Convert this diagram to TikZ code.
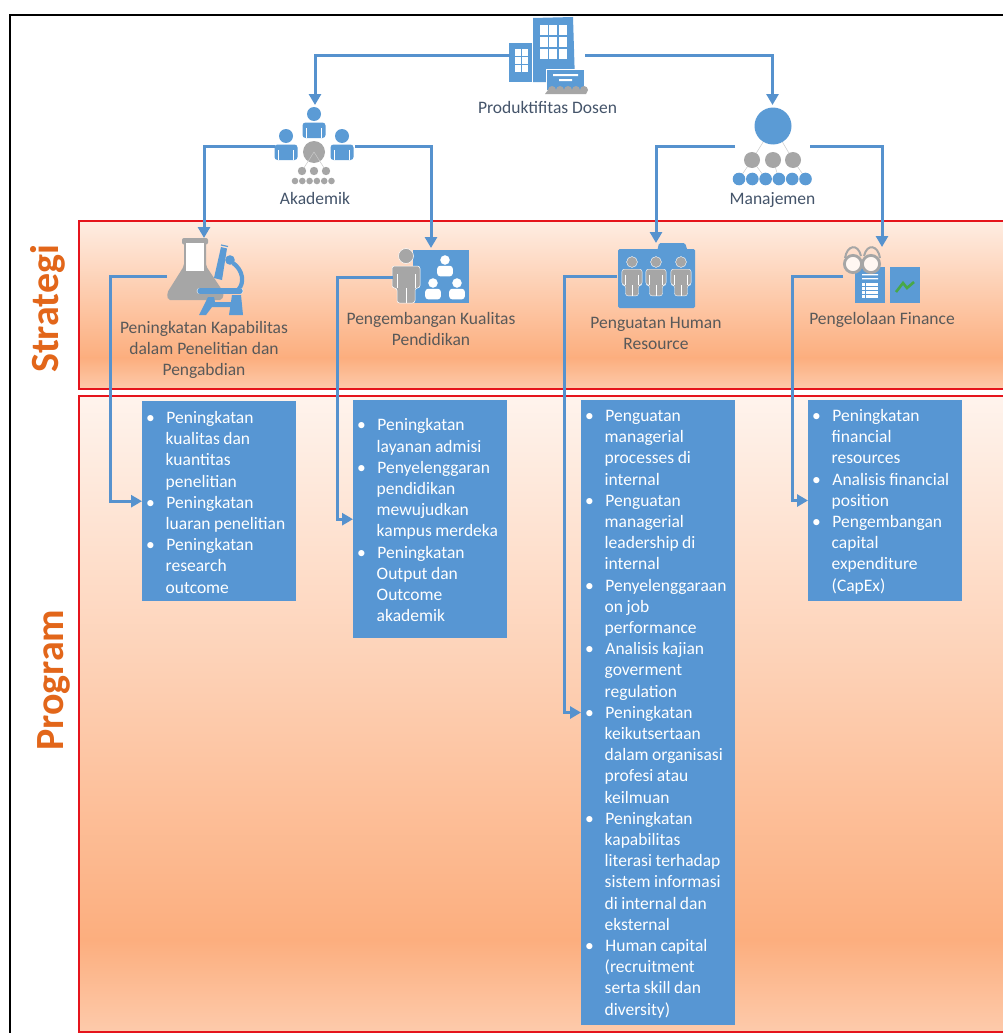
\documentclass[tikz,border=0pt]{standalone}
\usepackage{fontspec}
\setmainfont{Carlito}
\usetikzlibrary{positioning,arrows.meta}
\definecolor{iconblue}{HTML}{5B9BD5}
\definecolor{flowblue}{HTML}{5692CE}
\definecolor{boxblue}{HTML}{5796D3}
\definecolor{icongray}{HTML}{A6A6A6}
\definecolor{capgray}{HTML}{44546A}
\definecolor{textgray}{HTML}{595959}
\definecolor{framered}{HTML}{E5141C}
\definecolor{peach}{HTML}{FCAE7E}
\definecolor{sidetext}{HTML}{E2661A}
\definecolor{chartgreen}{HTML}{48A848}
\newenvironment{proglist}{\spaceskip=.2em\relax\list{\textbullet}{\leftmargin=23.5pt \labelsep=11.5pt \labelwidth=8pt
    \itemsep=0pt \parsep=0pt \topsep=0pt \partopsep=0pt}}{\endlist\vspace{7pt}}
\tikzstyle{iconbox}=[inner sep=0,outer sep=0]
\tikzstyle{flow}=[-{Triangle[width=12pt,length=11pt]},draw=flowblue,line width=3pt]
\tikzstyle{toplabel}=[inner sep=0,text=capgray,align=center,font=\fontsize{17.5}{21}\selectfont]
\tikzstyle{stratlabel}=[inner sep=0,text=textgray,align=center,font=\fontsize{17.5}{21}\selectfont]
\tikzstyle{sidelabel}=[inner sep=0,rotate=90,text=sidetext,font=\fontsize{40}{40}\selectfont\bfseries]
\tikzstyle{progbox}=[fill=boxblue,text=white,inner xsep=0,inner ysep=0,text width=154pt,align=left,
font=\fontsize{17.5}{21.2}\selectfont]
\tikzset{
  person/.pic={
    \path[pic actions] (0,0) circle (7);
    \path[pic actions,rounded corners=3pt] (-11.5,24) -- (-11.5,8.5) -- (11.5,8.5) -- (11.5,24) -- cycle;
    \draw[white,line width=.6pt] (-7.5,14) -- (-7.5,24) (7.5,14) -- (7.5,24);
  },
  standing/.pic={
    \path[pic actions] (0,0) circle (7.5);
    \path[pic actions,rounded corners=2.5pt] (-14,32) -- (-14,10) -- (14,10) -- (14,32) -- (9,32) -- (9,47) -- (-9,47) -- (-9,32) -- cycle;
    \draw[white,line width=.6pt] (0,32) -- (0,47) (-9,18) -- (-9,32) (9,18) -- (9,32);
  },
}
\begin{document}
\begin{tikzpicture}[x=1pt,y=-1pt]
    \useasboundingbox (0,0) rectangle (1003,1033);
    \fill[white] (0,0) rectangle (1003,1033);
    % frame and bands
    \draw[black,line width=2.4pt] (1003,15) -| (10,1033);
    \shade[top color=peach!22,bottom color=peach] (79,221) rectangle (1003,358);
    \shade[top color=peach,bottom color=peach!65] (79,357.5) rectangle (1003,389);
    \shade[top color=peach!14,bottom color=peach] (79,396) rectangle (1003,940);
    \shade[top color=peach,bottom color=peach!65] (79,939.5) rectangle (1003,1032);
    \draw[framered,line width=2.5pt] (1003,221) -| (79,389) -- (1003,389);
    \draw[framered,line width=2.5pt] (1003,396) -| (79,1032) -- (1003,1032);
    \node[sidelabel] (strategi) at (48,309) {Strategi};
    \node[sidelabel] (program) at (54,680) {Program};

    % icon areas, the connectors end on these
    \node[iconbox,minimum width=75pt,minimum height=78pt] (prod) at (547.5,56) {};
    \node[iconbox,minimum width=80pt,minimum height=82pt] (akad) at (315,146) {};
    \node[iconbox,minimum width=75pt,minimum height=82pt] (manaj) at (772.5,146) {};
    \node[iconbox,minimum width=74pt,minimum height=77pt] (flask) at (204,276.5) {};
    \node[iconbox,minimum width=76pt,minimum height=58pt] (kelas) at (431,277) {};
    \node[iconbox,minimum width=78pt,minimum height=66pt] (hr) at (656,276) {};
    \node[iconbox,minimum width=78pt,minimum height=58pt] (fin) at (882,276) {};

    \node[toplabel,below=6pt of prod] (prodtxt) {Produktifitas Dosen};
    \node[toplabel,below=5pt of akad] (akadtxt) {Akademik};
    \node[toplabel,below=5pt of manaj] (manajtxt) {Manajemen};
    \node[stratlabel,below=6pt of flask] (flasktxt) {Peningkatan Kapabilitas\\dalam Penelitian dan\\Pengabdian};
    \node[stratlabel,below=6pt of kelas] (kelastxt) {Pengembangan Kualitas\\Pendidikan};
    \node[stratlabel,below=8pt of hr] (hrtxt) {Penguatan Human\\Resource};
    \node[stratlabel,below=7pt of fin] (fintxt) {Pengelolaan Finance};

    % building
    \fill[iconblue] (533,18) -- (573,17) -- (575,82) -- (533,82) -- cycle;
    \fill[iconblue] (509,43) rectangle (532,82);
    \foreach \i in {0,1,2} \foreach \j in {0,1,2}
    \fill[white] (539.5+\i*9.8,25+\j*11.8) rectangle ++(8,10);
    \foreach \i in {0,1} \foreach \j in {0,1,2}
    \fill[white] (515+\i*7,49+\j*8.2) rectangle ++(5.8,6.8);
    \fill[iconblue,draw=white,line width=1pt] (546.5,69.5) rectangle (584,90);
    \fill[white] (553,74) rectangle (578,76) (559,79) rectangle (572,81);
    \fill[icongray] (545,94) -- (548,90) arc (180:360:4) arc (180:360:4) arc (180:360:4) arc (180:360:4) arc (180:360:4) -- (586,94) -- cycle;

    % people around the gray circle
    \pic[fill=iconblue] at (314,114) {person};
    \pic[fill=iconblue] at (286,136) {person};
    \pic[fill=iconblue] at (342,136) {person};
    \fill[icongray] (314,152) circle (11);
    \draw[icongray!60,line width=.5pt] (314,152) -- (302,171) (314,152) -- (326,171);
    \foreach \x in {302,314,326} \fill[icongray] (\x,171) circle (4.2);
    \foreach \x in {0,...,5} \fill[icongray] (295+\x*7.3,181) circle (3.3);

    % org chart
    \draw[icongray!60,line width=.5pt] (773,126) -- (752,160) (773,126) -- (793,160)
    (752,160) -- (739,179) (752,160) -- (766,179) (773,160) -- (779,179) (793,160) -- (806,179);
    \fill[iconblue] (773,126) circle (18.5);
    \foreach \x in {752,773,793} \fill[icongray] (\x,160) circle (8);
    \foreach \x in {0,...,5} \fill[iconblue] (739+\x*13.3,179) circle (6.3);

    % flask
    \fill[icongray,rounded corners=2pt] (184,243) -- (184,266) -- (167,293) -- (168,300) -- (222,300) -- (224,293) -- (206,266) -- (206,243) -- cycle;
    \fill[icongray,rounded corners=2pt] (182,238) rectangle (208,244.5);
    \fill[white] (186,243) rectangle (204,271);
    % microscope
    \fill[iconblue] (221,247) -- (227,248.5) -- (222,280) -- (214,278) -- cycle;
    \draw[iconblue,line width=1.2pt] (221,245) -- (228,246.5);
    \fill[iconblue] (230,260) circle (4.8);
    \draw[iconblue,line width=4.2pt] (233,263) .. controls (243,270) and (245,283) .. (238,290);
    \draw[white,line width=6.6pt,line cap=round] (200,291) -- (240,291);
    \draw[iconblue,line width=5.5pt,line cap=round] (200,291) -- (240,291);
    \fill[iconblue] (232,295) -- (241,295) -- (243,315) -- (229,315) -- cycle;
    \fill[iconblue] (208,297) -- (214,297) -- (215,302) -- (232,302) -- (232,307) -- (212,307) -- (206,315) -- (199,315) -- cycle;

    % teacher and class
    \fill[iconblue] (413,250) rectangle (469,303);
    \pic[fill=icongray,draw=white,line width=.5pt] at (406,256) {standing};
    \pic[fill=white,scale=.68] at (445,260) {person};
    \pic[fill=white,scale=.68] at (433,283) {person};
    \pic[fill=white,scale=.68] at (457,283) {person};

    % folder with staff
    \fill[iconblue,rounded corners=1.5pt] (618,249) rectangle (695,308);
    \fill[iconblue,rounded corners=1.5pt] (657,252) -- (659,243) -- (685,243) -- (688,252) -- cycle;
    \foreach \x in {632,656,681}
    \pic[fill=icongray,draw=white,line width=.4pt,scale=.72] at (\x,262) {standing};

    % calculator, glasses and chart
    \fill[iconblue] (855,267) rectangle (885,303);
    \fill[white] (862,274) rectangle (878,275.3) (862,278) rectangle (878,279.3);
    \foreach \i in {0,...,3} \foreach \j in {0,...,3}
    \fill[white] (862+\i*4.1,283+\j*3.9) rectangle ++(3.4,3.2);
    \fill[iconblue] (890,267) rectangle (920,303);
    \draw[chartgreen,line width=2.6pt] (896,292) -- (903,283) -- (907,288) -- (914,282);
    \draw[icongray,line width=2pt] (845,258) .. controls (847,245) and (858,243) .. (861,256)
    (864,256) .. controls (867,243) and (878,245) .. (880,258);
    \draw[icongray,fill=white!90!peach,line width=2.8pt] (853,264) circle (8.6) (871,264) circle (8.6);

    % program boxes
    \node[progbox,minimum height=200pt,anchor=north west] (prog1) at (142,401) {\begin{proglist}
      \item Peningkatan\newline kualitas dan\newline kuantitas\newline penelitian
      \item Peningkatan\newline luaran penelitian
      \item Peningkatan\newline research\newline outcome
    \end{proglist}};
    \node[progbox,minimum height=238pt,anchor=north west] (prog2) at (353,400) {\begin{proglist}
      \item Peningkatan\newline layanan admisi
      \item Penyelenggaran\newline pendidikan\newline mewujudkan\newline kampus merdeka
      \item Peningkatan\newline Output dan\newline Outcome\newline akademik
    \end{proglist}};
    \node[progbox,minimum height=623pt,anchor=north west] (prog3) at (581,400) {\begin{proglist}
      \item Penguatan\newline managerial\newline processes di\newline internal
      \item Penguatan\newline managerial\newline leadership di\newline internal
      \item Penyelenggaraan\newline on job\newline performance
      \item Analisis kajian\newline goverment\newline regulation
      \item Peningkatan\newline keikutsertaan\newline dalam organisasi\newline profesi atau\newline keilmuan
      \item Peningkatan\newline kapabilitas\newline literasi terhadap\newline sistem informasi\newline di internal dan\newline eksternal
      \item Human capital\newline (recruitment\newline serta skill dan\newline diversity)
    \end{proglist}};
    \node[progbox,minimum height=200pt,anchor=north west] (prog4) at (808,400) {\begin{proglist}
      \item Peningkatan\newline financial\newline resources
      \item Analisis financial\newline position
      \item Pengembangan\newline capital\newline expenditure\newline (CapEx)
    \end{proglist}};

    % connectors
    \draw[flow] (prod.west) -| (akad.north);
    \draw[flow] (prod.east) -| (manaj.north);
    \draw[flow] (akad.west) -| (flask.north);
    \draw[flow] (akad.east) -| (kelas.north);
    \draw[flow] (manaj.west) -| (hr.north);
    \draw[flow] (manaj.east) -| (fin.north);
    \draw[flow] (flask.west) -- ++(-57,0) |- (prog1.west);
    \draw[flow] (kelas.west) -- ++(-56,0) |- (prog2.west);
    \draw[flow] (hr.west) -- ++(-53,0) |- (prog3.west);
    \draw[flow] (fin.west) -- ++(-51,0) |- (prog4.west);
\end{tikzpicture}
\end{document}
